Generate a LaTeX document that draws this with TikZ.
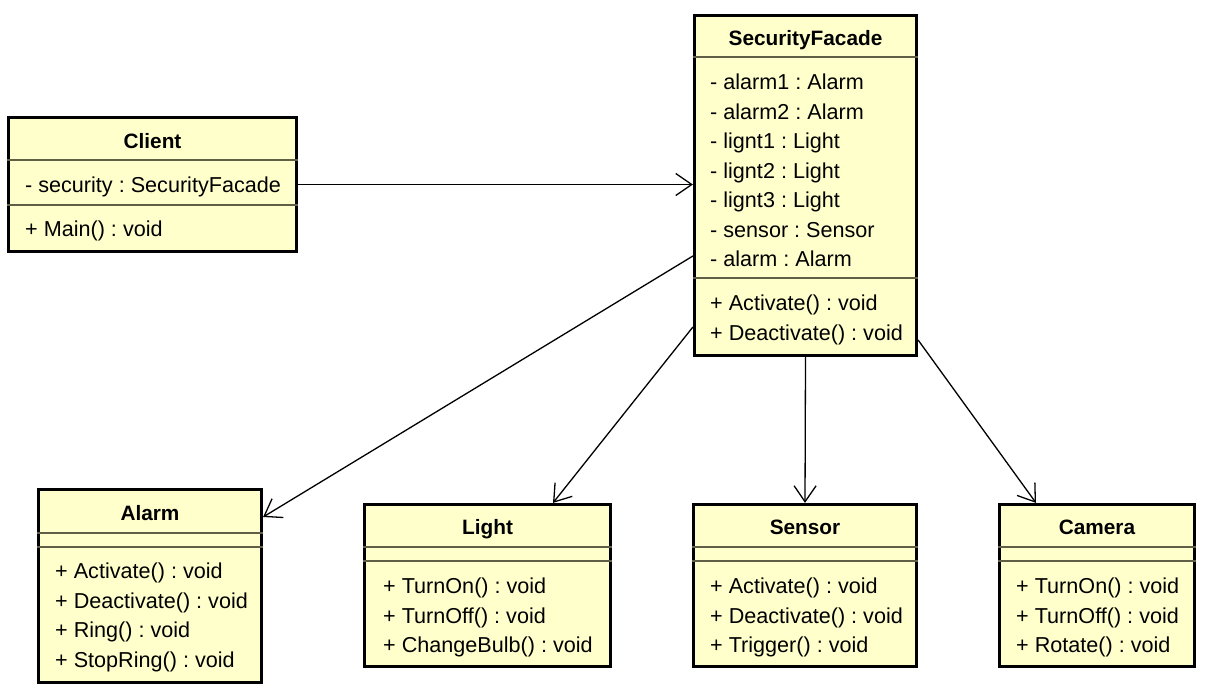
\documentclass[tikz,border=0pt]{standalone}
\usepackage{fontspec}
\setmainfont{Liberation Sans}
\usepackage{tikz}
\usetikzlibrary{arrows.meta}
\usetikzlibrary{calc}

\definecolor{classfill}{RGB}{255,255,204}
\definecolor{classline}{RGB}{95,95,70}

\tikzset{
    classbox/.style={draw=black,line width=3.2pt,fill=classfill,inner sep=0pt},
    divider/.style={draw=classline,line width=1.2pt},
    member/.style={anchor=west,inner sep=0pt,text height=16pt,text depth=1pt,font=\fontsize{21.6}{25}\selectfont},
    title/.style={inner sep=0pt,text height=16pt,text depth=1pt,font=\fontsize{20.8}{25}\selectfont\bfseries},
    assoc/.style={draw=black,line width=1.3pt,-{Straight Barb[length=16pt,width=22pt,line width=1.3pt]}}
}

\begin{document}
\frenchspacing
\begin{tikzpicture}[x=1pt,y=-1pt]
            \useasboundingbox (0,0) rectangle (1206,693);

            % Client
            \node[classbox,minimum width=288,minimum height=134] (client) at (152.5,184.5) {};
            \draw[divider] (client.west |- 0,160) -- (client.east |- 0,160);
            \draw[divider] (client.west |- 0,205) -- (client.east |- 0,205);
            \node[title] (clientname) at (152.5,141) {Client};
            \node[member] (clientattr) at (25,185) {- security : SecurityFacade};
            \node[member] (clientop) at (25,229) {+ Main() : void};

            % SecurityFacade
            \node[classbox,minimum width=222,minimum height=340] (facade) at (805.5,185.5) {};
            \draw[divider] (facade.west |- 0,57) -- (facade.east |- 0,57);
            \draw[divider] (facade.west |- 0,278) -- (facade.east |- 0,278);
            \node[title] (facadename) at (805.5,38) {SecurityFacade};
            \node[member] (facadeattra) at (710,82) {- alarm1 : Alarm};
            \node[member] (facadeattrb) at (710,111.5) {- alarm2 : Alarm};
            \node[member] (facadeattrc) at (710,141) {- lignt1 : Light};
            \node[member] (facadeattrd) at (710,170.5) {- lignt2 : Light};
            \node[member] (facadeattre) at (710,200) {- lignt3 : Light};
            \node[member] (facadeattrf) at (710,229.5) {- sensor : Sensor};
            \node[member] (facadeattrg) at (710,259) {- alarm : Alarm};
            \node[member] (facadeopa) at (710,303) {+ Activate() : void};
            \node[member] (facadeopb) at (710,332.5) {+ Deactivate() : void};

            % Alarm
            \node[classbox,minimum width=223,minimum height=193] (alarm) at (150,586) {};
            \draw[divider] (alarm.west |- 0,533) -- (alarm.east |- 0,533);
            \draw[divider] (alarm.west |- 0,547) -- (alarm.east |- 0,547);
            \node[title] (alarmname) at (150,513) {Alarm};
            \node[member] (alarmopa) at (55,571) {+ Activate() : void};
            \node[member] (alarmopb) at (55,600.5) {+ Deactivate() : void};
            \node[member] (alarmopc) at (55,630) {+ Ring() : void};
            \node[member] (alarmopd) at (55,659.5) {+ StopRing() : void};

            % Light
            \node[classbox,minimum width=246,minimum height=162] (light) at (487.5,585.5) {};
            \draw[divider] (light.west |- 0,547) -- (light.east |- 0,547);
            \draw[divider] (light.west |- 0,561) -- (light.east |- 0,561);
            \node[title] (lightname) at (487.5,527) {Light};
            \node[member] (lightopa) at (383,586) {+ TurnOn() : void};
            \node[member] (lightopb) at (383,615.5) {+ TurnOff() : void};
            \node[member] (lightopc) at (383,645) {+ ChangeBulb() : void};

            % Sensor
            \node[classbox,minimum width=223,minimum height=162] (sensor) at (805,585.5) {};
            \draw[divider] (sensor.west |- 0,547) -- (sensor.east |- 0,547);
            \draw[divider] (sensor.west |- 0,561) -- (sensor.east |- 0,561);
            \node[title] (sensorname) at (805,527) {Sensor};
            \node[member] (sensoropa) at (710,586) {+ Activate() : void};
            \node[member] (sensoropb) at (710,615.5) {+ Deactivate() : void};
            \node[member] (sensoropc) at (710,645) {+ Trigger() : void};

            % Camera
            \node[classbox,minimum width=195,minimum height=162] (camera) at (1097,585.5) {};
            \draw[divider] (camera.west |- 0,547) -- (camera.east |- 0,547);
            \draw[divider] (camera.west |- 0,561) -- (camera.east |- 0,561);
            \node[title] (cameraname) at (1097,527) {Camera};
            \node[member] (cameraopa) at (1016,586) {+ TurnOn() : void};
            \node[member] (cameraopb) at (1016,615.5) {+ TurnOff() : void};
            \node[member] (cameraopc) at (1016,645) {+ Rotate() : void};

            % associations
            \draw[assoc] (client.east) -- (client.east -| facade.west);
            \draw[assoc] (facade.west |- 0,256) -- (alarm.east |- 0,517);
            \draw[assoc] (facade.west |- 0,327) -- (light.north -| 553,0);
            \draw[assoc] (facade.south) -- (sensor.north);
            \draw[assoc] (facade.east |- 0,340) -- (camera.north -| 1036,0);
        \end{tikzpicture}
\end{document}
